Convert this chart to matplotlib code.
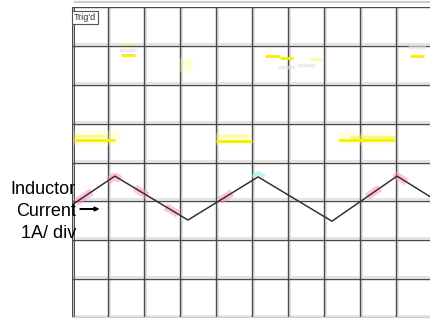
import matplotlib.pyplot as plt
from matplotlib.patches import FancyArrow
import numpy as np

plt.rcParams["font.family"] = ["Liberation Sans", "DejaVu Sans"]

# scope screen: 10 x 8 divisions
n_xdiv = 10
n_ydiv = 8

# inductor current trace (divisions)
current_t = [0, 1.19, 3.22, 5.17, 7.22, 9.03, 10]
current_a = [2.91, 3.65, 2.52, 3.63, 2.49, 3.65, 3.09]

# pink highlight ranges along the current trace (x in divisions)
pink_ranges = [(0.1, 0.55), (1.0, 1.35), (1.75, 2.1), (2.6, 2.95),
               (4.1, 4.45), (8.2, 8.55), (8.95, 9.3)]
cyan_ranges = [(5.0, 5.35)]

# yellow trace fragments: (x start, x end, level, alpha)
yellow_segs = [
    (1.36, 1.75, 6.77, 1.0),
    (1.36, 1.75, 7.05, 0.25),
    (5.36, 5.78, 6.74, 1.0),
    (5.78, 6.14, 6.69, 1.0),
    (6.58, 6.94, 6.66, 0.35),
    (9.39, 9.78, 6.74, 1.0),
    (0.05, 1.19, 4.58, 1.0),
    (0.05, 1.0, 4.68, 0.3),
    (4.0, 5.0, 4.56, 1.0),
    (4.0, 4.9, 4.67, 0.25),
    (7.4, 8.97, 4.58, 1.0),
    (7.7, 8.97, 4.66, 0.45),
]
# faint yellow blocks: (x0, x1, y0, y1)
yellow_blocks = [
    (2.97, 3.36, 6.33, 6.69),
    (0.05, 1.35, 4.45, 4.8),
    (4.0, 5.0, 4.45, 4.75),
    (7.4, 8.97, 4.45, 4.75),
]
# faint magenta traces
magenta_segs = [
    (5.78, 6.14, 6.45),
    (6.3, 6.7, 6.5),
    (9.39, 9.78, 6.97),
    (1.36, 1.75, 6.9),
]

fig = plt.figure(figsize=(4.31, 3.19), dpi=100)
ax = fig.add_axes([72 / 431, 1 / 319, 360 / 431, 311 / 319])
ax.set_xlim(0, n_xdiv)
ax.set_ylim(0, n_ydiv)
ax.axis("off")

# graticule: dark line with light grey shadow
for x in range(n_xdiv + 1):
    ax.axvline(x + 0.05, color="#e2e2e2", lw=1.4, zorder=1)
    ax.axvline(x, color="#4a4a4a", lw=1.0, zorder=2)
for y in range(n_ydiv + 1):
    ax.axhline(y + 0.05, color="#e2e2e2", lw=1.3, zorder=1)
    ax.axhline(y, color="#4a4a4a", lw=1.0, zorder=2)
ax.axvline(0.05, color="#4a4a4a", lw=0.7, zorder=2)
ax.axhline(0, color="#cccccc", lw=1.5, zorder=2)

for x0, x1, y0, y1 in yellow_blocks:
    ax.fill_between([x0, x1], y0, y1, color="#ffff90", alpha=0.3,
                    lw=0, zorder=3)
for x0, x1, y in magenta_segs:
    ax.plot([x0, x1], [y, y], color="#eed8f4", lw=2.5, alpha=0.6, zorder=3)
for x0, x1, y, a in yellow_segs:
    ax.plot([x0, x1], [y, y], color="#f5f000", lw=2.0, alpha=a, zorder=4,
            solid_capstyle="butt")

for x0, x1 in pink_ranges:
    xs = np.linspace(x0, x1, 5)
    ax.plot(xs, np.interp(xs, current_t, current_a), color="#ff90c8",
            lw=5.5, alpha=0.55, zorder=4, solid_capstyle="butt")
for x0, x1 in cyan_ranges:
    xs = np.linspace(x0, x1, 5)
    ax.plot(xs, np.interp(xs, current_t, current_a) + 0.1, color="#90f0f0",
            lw=3, alpha=0.6, zorder=4, solid_capstyle="butt")

ax.plot(current_t, current_a, color="#333333", lw=1.1, zorder=5)

# small status box in the corner
ax.text(0.06, 7.85, "Trig'd", fontsize=6.5, color="#333333", va="top",
        zorder=6, bbox=dict(boxstyle="square,pad=0.2", fc="white",
                            ec="#555555", lw=0.8))

# channel label
fig.text(76 / 431, 1 - 190 / 319, "Inductor", ha="right", va="center",
         fontsize=13)
fig.text(76 / 431, 1 - 211 / 319, "Current", ha="right", va="center",
         fontsize=13)
fig.text(76 / 431, 1 - 233 / 319, "1A/ div", ha="right", va="center",
         fontsize=13)
fig.patches.append(FancyArrow(80 / 431, 1 - 209 / 319, 14 / 431, 0,
                              width=0.002, head_width=0.012,
                              head_length=0.01, color="black",
                              transform=fig.transFigure))
fig.lines.append(plt.Line2D([75 / 431, 1], [1 - 1.5 / 319, 1 - 1.5 / 319],
                            color="#cccccc", lw=1.5,
                            transform=fig.transFigure))

fig.savefig("out.png", dpi=100)
